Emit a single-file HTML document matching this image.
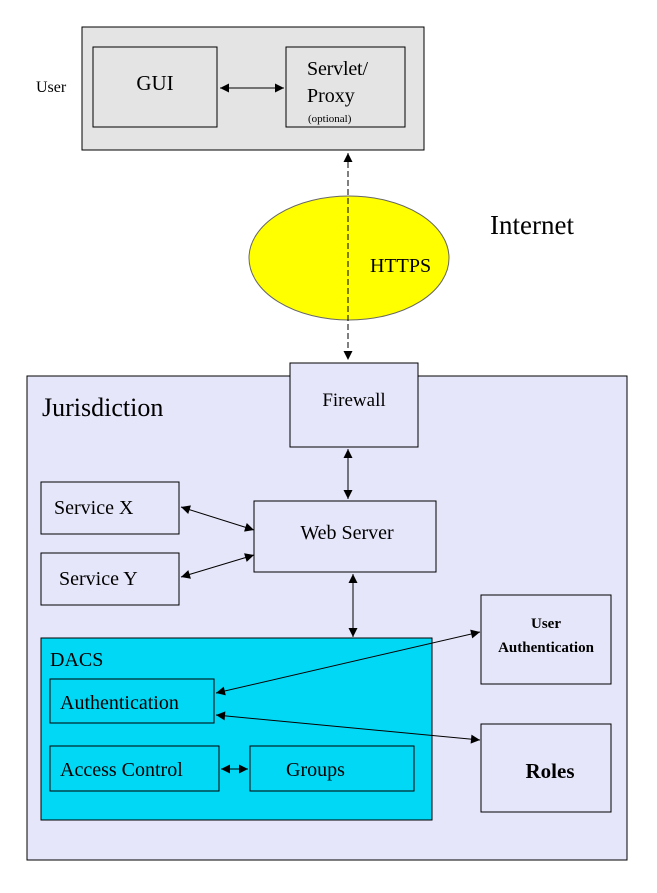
<!DOCTYPE html>
<html><head><style>body{margin:0;background:#fff}svg{display:block}text{font-family:"Liberation Serif",serif;fill:#000}</style></head>
<body>
<svg width="657" height="893" viewBox="0 0 657 893" xmlns="http://www.w3.org/2000/svg">
<defs>
<marker id="a" viewBox="0 0 10 10" refX="10" refY="5" markerWidth="12" markerHeight="9" markerUnits="userSpaceOnUse" orient="auto-start-reverse"><path d="M0,0L10,5L0,10z" fill="#000"/></marker>
</defs>
<rect x="82" y="27" width="342" height="123" fill="#e4e4e4" stroke="#000"/>
<rect x="93" y="47" width="124" height="80" fill="#e4e4e4" stroke="#000"/>
<rect x="286" y="47" width="119" height="80" fill="#e4e4e4" stroke="#000"/>
<text x="36" y="92" font-size="16">User</text>
<text x="155" y="90" font-size="21" text-anchor="middle">GUI</text>
<text x="307" y="75" font-size="20" textLength="61">Servlet/</text>
<text x="307" y="102" font-size="20">Proxy</text>
<text x="308" y="122" font-size="11">(optional)</text>
<line x1="220" y1="88" x2="284" y2="88" stroke="#000" marker-start="url(#a)" marker-end="url(#a)"/>
<ellipse cx="349" cy="258" rx="100" ry="62" fill="#ffff00" stroke="#666"/>
<text x="370" y="272" font-size="20">HTTPS</text>
<text x="490" y="234" font-size="27">Internet</text>
<line x1="348" y1="153" x2="348" y2="360" stroke="#000" stroke-dasharray="6,3" marker-start="url(#a)" marker-end="url(#a)"/>
<rect x="27" y="376" width="600" height="484" fill="#e6e6fa" stroke="#000"/>
<text x="42" y="416" font-size="26">Jurisdiction</text>
<rect x="290" y="363" width="128" height="84" fill="#e6e6fa" stroke="#000"/>
<text x="354" y="406" font-size="19" text-anchor="middle">Firewall</text>
<line x1="348" y1="449" x2="348" y2="499" stroke="#000" marker-start="url(#a)" marker-end="url(#a)"/>
<rect x="41" y="482" width="138" height="52" fill="#e6e6fa" stroke="#000"/>
<text x="54" y="514" font-size="20">Service X</text>
<rect x="41" y="553" width="138" height="52" fill="#e6e6fa" stroke="#000"/>
<text x="59" y="585" font-size="20">Service Y</text>
<rect x="254" y="501" width="182" height="71" fill="#e6e6fa" stroke="#000"/>
<text x="347" y="539" font-size="20" text-anchor="middle">Web Server</text>
<line x1="181" y1="507" x2="254" y2="530" stroke="#000" marker-start="url(#a)" marker-end="url(#a)"/>
<line x1="181" y1="577" x2="254" y2="555" stroke="#000" marker-start="url(#a)" marker-end="url(#a)"/>
<line x1="353" y1="574" x2="353" y2="637" stroke="#000" marker-start="url(#a)" marker-end="url(#a)"/>
<rect x="41" y="638" width="391" height="182" fill="#00d8f5" stroke="#000"/>
<text x="50" y="666" font-size="20" fill="#002244">DACS</text>
<rect x="50" y="679" width="164" height="44" fill="#00d8f5" stroke="#000"/>
<text x="60" y="709" font-size="20">Authentication</text>
<rect x="50" y="746" width="169" height="45" fill="#00d8f5" stroke="#000"/>
<text x="60" y="776" font-size="20">Access Control</text>
<rect x="250" y="746" width="164" height="45" fill="#00d8f5" stroke="#000"/>
<text x="286" y="776" font-size="20">Groups</text>
<line x1="221" y1="769" x2="248" y2="769" stroke="#000" marker-start="url(#a)" marker-end="url(#a)"/>
<rect x="481" y="595" width="130" height="89" fill="#e6e6fa" stroke="#000"/>
<text x="546" y="628" font-size="15" font-weight="bold" text-anchor="middle">User</text>
<text x="546" y="652" font-size="15" font-weight="bold" text-anchor="middle">Authentication</text>
<rect x="481" y="724" width="130" height="88" fill="#e6e6fa" stroke="#000"/>
<text x="550" y="778" font-size="21" font-weight="bold" text-anchor="middle">Roles</text>
<line x1="216" y1="693" x2="480" y2="632" stroke="#000" marker-start="url(#a)" marker-end="url(#a)"/>
<line x1="216" y1="715" x2="480" y2="740" stroke="#000" marker-start="url(#a)" marker-end="url(#a)"/>
</svg>
</body></html>
